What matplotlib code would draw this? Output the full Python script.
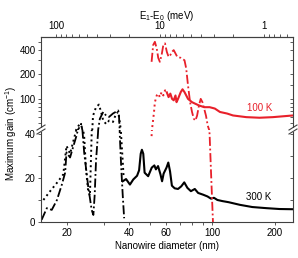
import matplotlib.pyplot as plt
import matplotlib.ticker as mticker
from matplotlib.lines import Line2D
from matplotlib.patches import Rectangle
import numpy as np

plt.rcParams['font.family'] = ['Liberation Sans', 'DejaVu Sans']
plt.rcParams['mathtext.fontset'] = 'custom'
plt.rcParams['mathtext.rm'] = 'Liberation Sans'
plt.rcParams['mathtext.it'] = 'Liberation Sans:italic'
plt.rcParams['font.size'] = 7

RED = '#e8202a'
SPINE = '#404040'

# 300 K, small diameters (dotted)
bk_dot_d = [15.4, 16.6, 17.9, 19.2, 19.9, 20.7, 22.2, 23.0, 23.4, 24.2, 24.7, 25.3, 25.8,
            26.7, 27.6, 28.5, 29.2, 29.9, 30.9, 31.9, 33.3, 34.5, 35.3, 35.9, 36.5, 37.1, 37.5]
bk_dot_v = [10, 14, 17.8, 21.6, 34.6, 31, 42, 49, 47, 39, 24, 14, 12,
            62, 79, 85, 69, 54, 49, 54, 52, 66, 69, 52, 38.5, 27.7, 20]

# 300 K, small diameters (dash-dot)
bk_dd_d = [15.1, 16.0, 16.9, 17.9, 18.9, 19.6, 19.9, 20.7, 21.5, 22.2, 23.0, 23.4, 24.2, 25.3,
           26.3, 26.8, 27.2, 27.6, 28.2, 28.8, 29.9, 30.9, 31.9, 33.3, 35.3, 35.6, 35.9, 36.5,
           37.1, 37.7]
bk_dd_v = [1, 6.3, 5.5, 10, 17, 22.4, 31.6, 29.3, 34.6, 39, 44.9, 49.4, 31.6, 16.2,
           5.5, 3.2, 12.4, 27.7, 40, 57, 69, 62, 60, 66, 72, 62, 40, 24.7,
           12.4, 1.7]

# 300 K, solid
bk_d = [37.1, 38.5, 40.2, 41.7, 43.5, 44.5, 45.3, 45.9, 46.6, 47.3, 49.2, 51.2, 52.7, 53.6,
        54.9, 56.4, 57.4, 58.4, 60.3, 61.5, 62.7, 64.0, 66.0, 68.5, 71.0, 73.4, 76.0, 79.0,
        82.5, 85.6, 90.5, 95.0, 98.7, 102, 106, 112, 120, 136, 156, 182, 211, 245]
bk_v = [18.5, 19.5, 17.0, 19.3, 21.0, 23.5, 31.0, 32.8, 31.0, 22.4, 20.8, 24.7, 25.7, 23.9,
        25.4, 21.6, 18.5, 22.0, 24.7, 27.0, 23.0, 16.5, 15.3, 15.0, 16.2, 18.0, 15.5, 14.0,
        15.0, 13.2, 12.4, 11.6, 10.6, 11.0, 10.0, 9.5, 9.0, 7.8, 6.8, 6.3, 5.9, 5.8]

# 100 K, dash-dot
red_dd_d = [51.1, 52.0, 53.0, 54.1, 55.0, 56.0, 57.1, 58.2, 59.3, 60.5, 61.7, 62.9, 64.1,
            65.3, 66.6, 67.9, 70.6, 73.6, 75.0, 76.5, 78.3, 80.0, 81.6, 83.0, 84.6, 86.4,
            88.1, 89.8, 91.5, 93.4, 95.2, 97.2, 99.0, 100.9]
red_dd_v = [285, 458, 502, 416, 319, 285, 345, 458, 480, 378, 328, 345, 378,
            397, 361, 328, 319, 298, 236, 147, 91, 69, 57, 54, 62, 83,
            100, 91, 76, 62, 47, 40, 20, 0]

# 100 K, dotted
red_dot_d = [51.1, 51.6, 52.5, 53.0, 54.1, 55.0, 56.0, 57.1, 58.2, 59.3, 60.5]
red_dot_v = [39, 47, 69, 91, 110, 116, 105, 121, 110, 127, 125]

# 100 K, solid
red_d = [60.5, 61.7, 62.9, 64.1, 65.3, 66.6, 67.4, 68.5, 70.6, 72.0, 73.6, 76.5, 80.0,
         83.0, 86.4, 91.5, 97.2, 103, 109, 118, 126, 146, 169, 196, 245]
red_v = [120, 105, 116, 100, 96, 110, 91, 100, 121, 131, 121, 100, 91,
         87, 83, 79, 79, 76, 69, 66, 62.5, 59.6, 58.6, 59.6, 62.5]

C = 31400.0  # E1-E0 (meV) ~ C / d^2


def d2e(d):
    d = np.maximum(np.asarray(d, dtype=float), 1e-6)
    return C / d ** 2


def e2d(e):
    e = np.maximum(np.asarray(e, dtype=float), 1e-9)
    return np.sqrt(C / e)


fig = plt.figure(figsize=(2.98, 2.58), dpi=100)
axb = fig.add_axes([0.1376, 0.1395, 0.8456, 0.3585])
axt = fig.add_axes([0.1376, 0.498, 0.8456, 0.3586], sharex=axb)

ddash = (0, (5, 1.5, 1, 1.5))
for ax in (axb, axt):
    ax.plot(bk_dot_d, bk_dot_v, color='k', ls=':', lw=1.4)
    ax.plot(bk_dd_d, bk_dd_v, color='k', ls=ddash, lw=1.3)
    ax.plot(bk_d, bk_v, color='k', lw=1.5)
    ax.plot(red_dd_d, red_dd_v, color=RED, ls=ddash, lw=1.3)
    ax.plot(red_dot_d, red_dot_v, color=RED, ls=':', lw=1.4)
    ax.plot(red_d, red_v, color=RED, lw=1.5)
    for s in ax.spines.values():
        s.set_color(SPINE)
        s.set_linewidth(0.8)

axb.set_xscale('log')
axb.set_xlim(15, 245)
axb.set_ylim(0, 42)
axt.set_yscale('log')
axt.set_ylim(42, 575)

axb.spines['top'].set_visible(False)
axt.spines['bottom'].set_visible(False)

xt = [20, 30, 40, 50, 60, 70, 80, 90, 100, 200]
xl = ['20', '', '40', '', '60', '', '', '', '100', '200']
axb.set_xticks(xt, xl)
axb.xaxis.set_minor_locator(mticker.NullLocator())
axb.tick_params(axis='x', which='both', direction='out', length=2.5, width=0.6,
                color=SPINE, pad=2)
axt.tick_params(axis='x', which='both', bottom=False, labelbottom=False)

axb.set_yticks([0, 10, 20, 30, 40], ['0', '', '20', '', '40'])
axb.tick_params(axis='y', direction='out', length=2.5, width=0.6, color=SPINE, pad=1.5)

axt.yaxis.set_major_locator(mticker.FixedLocator([100, 200, 400]))
axt.yaxis.set_major_formatter(mticker.FixedFormatter(['100', '200', '400']))
axt.yaxis.set_minor_locator(mticker.FixedLocator([50, 60, 70, 80, 90, 150, 300, 500]))
axt.yaxis.set_minor_formatter(mticker.NullFormatter())
axt.tick_params(axis='y', which='both', direction='out', length=2.5, width=0.6,
                color=SPINE, pad=1.5)

# inward ticks on the right side
for ax in (axb, axt):
    tw = ax.twinx()
    tw.set_yscale(ax.get_yscale())
    tw.set_ylim(ax.get_ylim())
    for s in tw.spines.values():
        s.set_visible(False)
    if ax is axb:
        tw.set_yticks([0, 10, 20, 30, 40])
    else:
        tw.yaxis.set_major_locator(mticker.FixedLocator([100, 200, 400]))
        tw.yaxis.set_minor_locator(mticker.FixedLocator([50, 60, 70, 80, 90, 150, 300, 500]))
    tw.tick_params(axis='y', which='both', direction='in', length=2.5, width=0.6,
                   color=SPINE, labelright=False)

sec = axt.secondary_xaxis('top', functions=(d2e, e2d))
sec.xaxis.set_major_locator(mticker.FixedLocator([1, 10, 100]))
sec.xaxis.set_major_formatter(mticker.FuncFormatter(lambda v, p: '%g' % v))
sec.xaxis.set_minor_locator(mticker.LogLocator(base=10, subs=np.arange(2, 10), numticks=20))
sec.xaxis.set_minor_formatter(mticker.NullFormatter())
sec.tick_params(axis='x', which='both', direction='out', length=2.5, width=0.6,
                color=SPINE, pad=1.5)
sec.spines['top'].set_color(SPINE)
sec.spines['top'].set_linewidth(0.8)
sec.set_xlabel(r'E$_{\mathregular{1}}$-E$_{\mathregular{0}}$ (meV)', labelpad=2)

axb.set_xlabel('Nanowire diameter (nm)', labelpad=2)
fig.text(0.037, 0.483, 'Maximum gain (cm$^{-1}$)', rotation=90, ha='center', va='center')

axt.text(169, 78, '100 K', color=RED, ha='center', va='center')
axb.text(167, 11.5, '300 K', color='k', ha='center', va='center')

# axis break marks
W, H = 298.0, 258.0
yb = 0.498
for xf in (0.1376, 0.1376 + 0.8456):
    fig.add_artist(Rectangle((xf - 2 / W, yb - 2 / H), 4 / W, 4 / H,
                             transform=fig.transFigure, facecolor='white',
                             edgecolor='none', zorder=5))
    for off in (-2.0, 2.0):
        fig.add_artist(Line2D([xf - 4 / W, xf + 4 / W],
                              [yb + (off - 2.5) / H, yb + (off + 2.5) / H],
                              transform=fig.transFigure, color=SPINE, lw=0.8, zorder=6))

fig.savefig('out.png', dpi=100)
